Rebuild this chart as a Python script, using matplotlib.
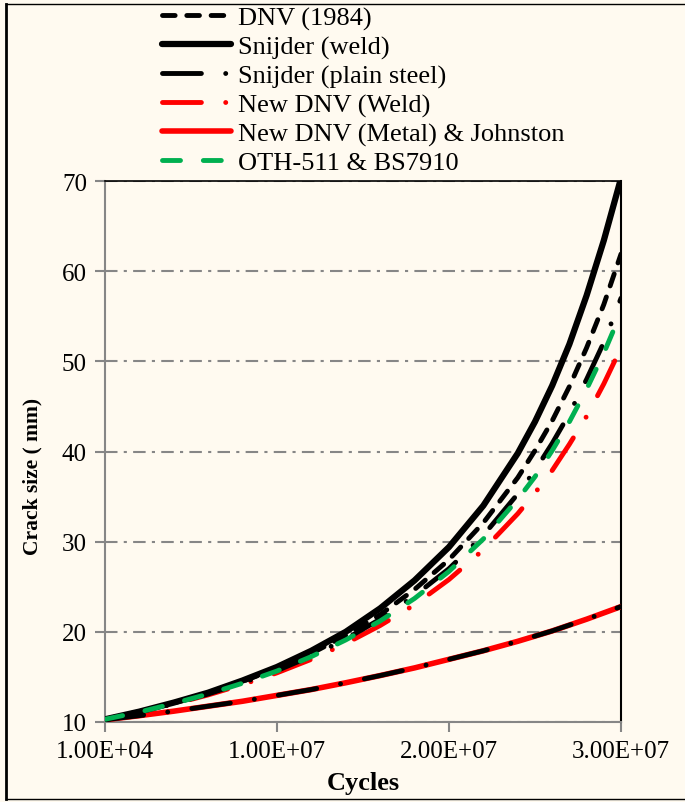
import matplotlib

matplotlib.use("Agg")
import matplotlib.pyplot as plt
from matplotlib.lines import Line2D
import numpy as np

# cycles in millions
cycles_m = [0.01, 2, 4, 6, 8, 10, 12, 14, 16, 18, 20, 22, 24, 25, 26, 27, 28, 29, 30]

# crack size (mm), upper bundle
dnv_1984 = [10.3, 11.15, 12.1, 13.2, 14.5, 15.95, 17.6, 19.6, 21.9, 24.7, 28.0, 32.1, 37.1, 40.1, 43.4, 47.2, 51.5, 56.3, 61.9]
snijder_weld = [10.3, 11.15, 12.15, 13.25, 14.6, 16.1, 17.9, 20.0, 22.6, 25.7, 29.4, 34.0, 39.8, 43.3, 47.3, 51.9, 57.3, 63.4, 70.3]
upper_extra = [10.3, 11.1, 12.05, 13.1, 14.35, 15.7, 17.3, 19.2, 21.4, 24.0, 27.0, 30.7, 35.3, 37.9, 40.9, 44.2, 48.0, 52.1, 57.0]
new_dnv_weld = [10.3, 11.1, 12.0, 13.0, 14.15, 15.45, 16.95, 18.7, 20.7, 23.0, 25.8, 29.1, 33.1, 35.4, 37.9, 40.8, 43.9, 47.5, 51.5]
oth_bs7910 = [10.3, 11.1, 12.05, 13.1, 14.3, 15.65, 17.25, 19.1, 21.2, 23.7, 26.7, 30.3, 34.7, 37.2, 40.1, 43.3, 46.9, 50.9, 55.4]

# crack size (mm), lower curve
lower_cycles_m = [0.01, 2, 4, 6, 8, 10, 12, 14, 16, 18, 20, 22, 24, 26, 28, 30]
snijder_plain = [10.25, 10.7, 11.2, 11.75, 12.3, 12.95, 13.6, 14.35, 15.15, 16.0, 16.95, 17.9, 18.95, 20.1, 21.4, 22.8]
new_dnv_metal = snijder_plain

x_ticks = [1e4, 1e7, 2e7, 3e7]
x_tick_labels = ["1.00E+04", "1.00E+07", "2.00E+07", "3.00E+07"]
y_ticks = [10, 20, 30, 40, 50, 60, 70]

BG = "#FFFAF0"
RED = "#FF0000"
GREEN = "#00B050"
GREY = "#868686"
SERIF = ["Liberation Serif", "DejaVu Serif"]

plt.rcParams["font.family"] = SERIF

fig = plt.figure(figsize=(6.85, 8.03), dpi=100, facecolor=BG)
ax = fig.add_axes([105 / 685, 1 - 723 / 803, 516 / 685, 541 / 803], facecolor=BG)

N = np.asarray(cycles_m) * 1e6
NL = np.asarray(lower_cycles_m) * 1e6
dash_dot = (0, (8.0, 5.0, 0.01, 5.0))

ax.plot(NL, new_dnv_metal, color=RED, lw=4.0, solid_capstyle="round", zorder=3,
        label="New DNV (Metal) & Johnston")
ax.plot(NL, snijder_plain, color="black", lw=3.5, ls=dash_dot, dash_capstyle="round", zorder=4,
        label="Snijder (plain steel)")
ax.plot(N, new_dnv_weld, color=RED, lw=3.5, ls=dash_dot, dash_capstyle="round", zorder=3,
        label="New DNV (Weld)")
ax.plot(N, oth_bs7910, color=GREEN, lw=3.5, ls=(0, (3.7, 4.7)), dash_capstyle="round", zorder=5,
        label="OTH-511 & BS7910")
ax.plot(N, upper_extra, color="black", lw=3.5, ls=dash_dot, dash_capstyle="round", zorder=4)
ax.plot(N, dnv_1984, color="black", lw=3.5, ls=(0, (2.6, 2.4)), dash_capstyle="round", zorder=4,
        label="DNV (1984)")
ax.plot(N, snijder_weld, color="black", lw=4.5, solid_capstyle="round", zorder=4,
        label="Snijder (weld)")

ax.set_xlim(1e4, 3e7)
ax.set_ylim(10, 70)
ax.set_xticks(x_ticks)
ax.set_xticklabels(x_tick_labels)
ax.set_yticks(y_ticks)
ax.tick_params(axis="both", direction="out", length=7, width=1.5, color=GREY, labelsize=18, pad=6)
ax.yaxis.grid(True, color=GREY, lw=1.5, ls=(0, (6, 3, 1.5, 3)))
ax.set_axisbelow(True)
for side in ("left", "bottom"):
    ax.spines[side].set_color(GREY)
    ax.spines[side].set_linewidth(1.5)
ax.spines["top"].set_color("black")
ax.spines["top"].set_linewidth(1.2)
ax.spines["right"].set_color("black")
ax.spines["right"].set_linewidth(1.5)

ax.set_xlabel("Cycles", fontsize=19, fontweight="bold")
ax.xaxis.set_label_coords(0.5, -0.09)
ax.set_ylabel("Crack size ( mm)", fontsize=15.5, fontweight="bold")
ax.yaxis.set_label_coords(-0.121, 0.455)

handles, labels = ax.get_legend_handles_labels()
order = ["DNV (1984)", "Snijder (weld)", "Snijder (plain steel)", "New DNV (Weld)",
         "New DNV (Metal) & Johnston", "OTH-511 & BS7910"]
lookup = dict(zip(labels, handles))
fig.legend([lookup[k] for k in order], order, loc="upper left", bbox_to_anchor=(0.2307, 0.996),
           frameon=False, fontsize=19, handlelength=2.6, handletextpad=0.28,
           labelspacing=0.19, borderaxespad=0.0, borderpad=0.15)

# outer frame of the chart area
fig.add_artist(Line2D([6 / 685, 6 / 685], [3 / 803, 1 - 5 / 803], transform=fig.transFigure,
                      color="black", lw=2.0))
fig.add_artist(Line2D([6 / 685, 1.0], [1 - 5 / 803, 1 - 5 / 803], transform=fig.transFigure,
                      color="black", lw=1.0))
fig.add_artist(Line2D([6 / 685, 1.0], [3 / 803, 3 / 803], transform=fig.transFigure,
                      color="black", lw=1.0))

fig.savefig("out.png", dpi=100, facecolor=BG)
